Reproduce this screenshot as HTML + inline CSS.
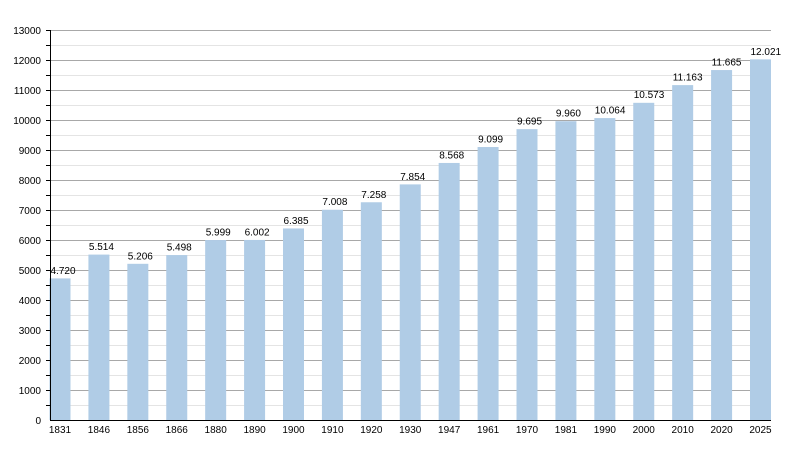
<!DOCTYPE html>
<html><head><meta charset="utf-8"><style>
html,body{margin:0;padding:0;background:#fff;}
svg{display:block;}
text{font-family:"Liberation Sans",Arial,sans-serif;font-size:10px;fill:#000;}
</style></head><body>
<svg width="800" height="450" viewBox="0 0 800 450" xmlns="http://www.w3.org/2000/svg">
<rect width="800" height="450" fill="#fff"/>
<g stroke="#e4e4e4" stroke-width="1">
<line x1="50" x2="771" y1="45.5" y2="45.5"/><line x1="50" x2="771" y1="75.5" y2="75.5"/><line x1="50" x2="771" y1="105.5" y2="105.5"/><line x1="50" x2="771" y1="135.5" y2="135.5"/><line x1="50" x2="771" y1="165.5" y2="165.5"/><line x1="50" x2="771" y1="195.5" y2="195.5"/><line x1="50" x2="771" y1="225.5" y2="225.5"/><line x1="50" x2="771" y1="255.5" y2="255.5"/><line x1="50" x2="771" y1="285.5" y2="285.5"/><line x1="50" x2="771" y1="315.5" y2="315.5"/><line x1="50" x2="771" y1="345.5" y2="345.5"/><line x1="50" x2="771" y1="375.5" y2="375.5"/><line x1="50" x2="771" y1="405.5" y2="405.5"/>
</g>
<g stroke="#a8a8a8" stroke-width="1">
<line x1="50" x2="771" y1="30.5" y2="30.5"/><line x1="50" x2="771" y1="60.5" y2="60.5"/><line x1="50" x2="771" y1="90.5" y2="90.5"/><line x1="50" x2="771" y1="120.5" y2="120.5"/><line x1="50" x2="771" y1="150.5" y2="150.5"/><line x1="50" x2="771" y1="180.5" y2="180.5"/><line x1="50" x2="771" y1="210.5" y2="210.5"/><line x1="50" x2="771" y1="240.5" y2="240.5"/><line x1="50" x2="771" y1="270.5" y2="270.5"/><line x1="50" x2="771" y1="300.5" y2="300.5"/><line x1="50" x2="771" y1="330.5" y2="330.5"/><line x1="50" x2="771" y1="360.5" y2="360.5"/><line x1="50" x2="771" y1="390.5" y2="390.5"/>
</g>
<g fill="#b0cce6">
<rect x="49.5" y="278.4" width="21" height="141.6"/>
<rect x="88.42" y="254.58" width="21" height="165.42"/>
<rect x="127.33" y="263.82" width="21" height="156.18"/>
<rect x="166.25" y="255.06" width="21" height="164.94"/>
<rect x="205.17" y="240.03" width="21" height="179.97"/>
<rect x="244.08" y="239.94" width="21" height="180.06"/>
<rect x="283" y="228.45" width="21" height="191.55"/>
<rect x="321.92" y="209.76" width="21" height="210.24"/>
<rect x="360.83" y="202.26" width="21" height="217.74"/>
<rect x="399.75" y="184.38" width="21" height="235.62"/>
<rect x="438.67" y="162.96" width="21" height="257.04"/>
<rect x="477.58" y="147.03" width="21" height="272.97"/>
<rect x="516.5" y="129.15" width="21" height="290.85"/>
<rect x="555.42" y="121.2" width="21" height="298.8"/>
<rect x="594.33" y="118.08" width="21" height="301.92"/>
<rect x="633.25" y="102.81" width="21" height="317.19"/>
<rect x="672.17" y="85.11" width="21" height="334.89"/>
<rect x="711.08" y="70.05" width="21" height="349.95"/>
<rect x="750" y="59.37" width="21" height="360.63"/>
</g>
<g stroke="#000" stroke-width="1">
<line x1="50.5" x2="50.5" y1="30" y2="420.5"/>
<line x1="50" x2="771" y1="420.5" y2="420.5"/>
<line x1="46" x2="50" y1="30.5" y2="30.5"/><line x1="46" x2="50" y1="45.5" y2="45.5"/><line x1="46" x2="50" y1="60.5" y2="60.5"/><line x1="46" x2="50" y1="75.5" y2="75.5"/><line x1="46" x2="50" y1="90.5" y2="90.5"/><line x1="46" x2="50" y1="105.5" y2="105.5"/><line x1="46" x2="50" y1="120.5" y2="120.5"/><line x1="46" x2="50" y1="135.5" y2="135.5"/><line x1="46" x2="50" y1="150.5" y2="150.5"/><line x1="46" x2="50" y1="165.5" y2="165.5"/><line x1="46" x2="50" y1="180.5" y2="180.5"/><line x1="46" x2="50" y1="195.5" y2="195.5"/><line x1="46" x2="50" y1="210.5" y2="210.5"/><line x1="46" x2="50" y1="225.5" y2="225.5"/><line x1="46" x2="50" y1="240.5" y2="240.5"/><line x1="46" x2="50" y1="255.5" y2="255.5"/><line x1="46" x2="50" y1="270.5" y2="270.5"/><line x1="46" x2="50" y1="285.5" y2="285.5"/><line x1="46" x2="50" y1="300.5" y2="300.5"/><line x1="46" x2="50" y1="315.5" y2="315.5"/><line x1="46" x2="50" y1="330.5" y2="330.5"/><line x1="46" x2="50" y1="345.5" y2="345.5"/><line x1="46" x2="50" y1="360.5" y2="360.5"/><line x1="46" x2="50" y1="375.5" y2="375.5"/><line x1="46" x2="50" y1="390.5" y2="390.5"/><line x1="46" x2="50" y1="405.5" y2="405.5"/>
</g>
<g text-anchor="end">
<text x="41" y="34">13000</text><text x="41" y="64">12000</text><text x="41" y="94">11000</text><text x="41" y="124">10000</text><text x="41" y="154">9000</text><text x="41" y="184">8000</text><text x="41" y="214">7000</text><text x="41" y="244">6000</text><text x="41" y="274">5000</text><text x="41" y="304">4000</text><text x="41" y="334">3000</text><text x="41" y="364">2000</text><text x="41" y="394">1000</text><text x="41" y="424">0</text>
</g>
<g text-anchor="middle">
<text x="60" y="433">1831</text><text x="98.92" y="433">1846</text><text x="137.83" y="433">1856</text><text x="176.75" y="433">1866</text><text x="215.67" y="433">1880</text><text x="254.58" y="433">1890</text><text x="293.5" y="433">1900</text><text x="332.42" y="433">1910</text><text x="371.33" y="433">1920</text><text x="410.25" y="433">1930</text><text x="449.17" y="433">1947</text><text x="488.08" y="433">1961</text><text x="527" y="433">1970</text><text x="565.92" y="433">1981</text><text x="604.83" y="433">1990</text><text x="643.75" y="433">2000</text><text x="682.67" y="433">2010</text><text x="721.58" y="433">2020</text><text x="760.5" y="433">2025</text>
</g>
<g text-anchor="start">
<text x="50.5" y="274">4.720</text>
<text x="88.9" y="250">5.514</text>
<text x="127.8" y="259.5">5.206</text>
<text x="166.7" y="250.5">5.498</text>
<text x="205.7" y="235.5">5.999</text>
<text x="244.6" y="235.5">6.002</text>
<text x="283.5" y="224">6.385</text>
<text x="322.4" y="205">7.008</text>
<text x="361.3" y="198">7.258</text>
<text x="400.2" y="180">7.854</text>
<text x="439.2" y="158.5">8.568</text>
<text x="478.1" y="142.5">9.099</text>
<text x="517" y="124.5">9.695</text>
<text x="555.9" y="116.5">9.960</text>
<text x="594.8" y="113.5">10.064</text>
<text x="633.7" y="98">10.573</text>
<text x="672.7" y="80.5">11.163</text>
<text x="711.6" y="65.5">11.665</text>
<text x="750.5" y="55">12.021</text>
</g>
</svg>
</body></html>
